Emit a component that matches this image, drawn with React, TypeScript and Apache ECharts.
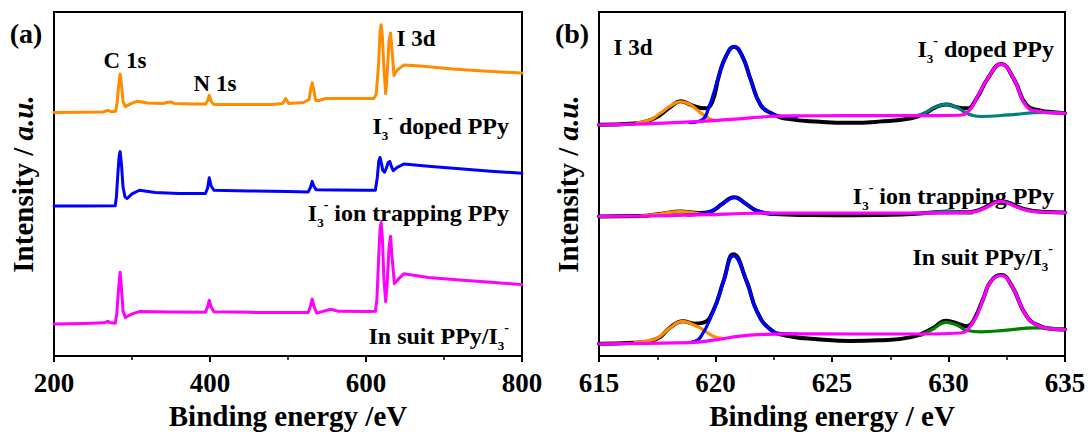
import React, { useEffect, useRef } from "react";
import * as echarts from "echarts";

type Pt = [number, number];

// ---------- Panel (a): XPS survey spectra (binding energy / eV, intensity / a.u.) ----------
const surveyDoped: Pt[] = [
  [200, 247.7], [235, 248], [263, 248.3], [269, 250], [274, 248.5], [279, 249], [281, 258], [283, 276],
  [284.8, 287], [286.5, 276], [288.5, 259], [291.5, 253.7], [298, 256.5], [307, 259.3], [320, 257.5],
  [340, 257], [346, 258.2], [350, 258.5], [354, 257], [380, 256.5], [394, 256.3], [397, 260], [399, 265.3],
  [401.5, 259], [405, 256], [440, 256], [480, 256], [493, 257], [497, 262], [501, 257], [520, 258],
  [527, 261], [529, 271], [531, 278], [533, 271], [535.5, 260], [540, 260], [548, 262], [580, 262],
  [610, 262], [613, 266], [616, 295], [618, 330], [619.4, 337], [621, 325], [623, 292], [625.2, 267],
  [627, 285], [629.5, 320], [631.5, 328.7], [633.5, 310], [635.9, 285.3], [640, 291], [648.4, 296],
  [670, 295], [711, 292], [750, 290], [798, 288], [800, 288],
];
const surveyTrapping: Pt[] = [
  [200, 152.7], [240, 152.8], [278.5, 153], [280, 162], [282, 187], [283.5, 203], [284.8, 208],
  [286.5, 195], [288.5, 172], [291, 162], [293.7, 160.3], [300, 165], [309.5, 168.7], [330, 166.5],
  [360, 165.5], [394, 165.3], [397, 171], [399, 181.3], [401.5, 173], [405, 168.7], [450, 168],
  [500, 167.5], [526, 167], [529, 172], [531, 177.7], [533, 173], [536, 169.3], [560, 169], [600, 168.7],
  [612, 168.7], [614.5, 182], [616.5, 199], [618, 202], [620, 195], [621.5, 189], [623.8, 187],
  [626, 191], [628.5, 197], [630.5, 198], [632.5, 193], [634.9, 188.7], [640, 192], [648.4, 195.3],
  [680, 193], [720, 190.5], [760, 188], [800, 186],
];
const surveyInSuit: Pt[] = [
  [200, 32.7], [240, 33.2], [264, 33.8], [269, 35.3], [273, 33.8], [278.5, 33.5], [280.5, 43],
  [282.5, 66], [284.8, 85.3], [286.8, 66], [288.5, 46], [291.5, 39.3], [300, 43], [309.5, 45.3],
  [350, 44.8], [394, 44.7], [397, 50], [399, 56.7], [401.5, 50], [405, 45], [450, 44.5], [500, 44.3],
  [526, 44.3], [528.5, 50], [531, 58], [533.5, 50], [537, 43.7], [545, 45.5], [554.7, 47.7], [565, 45.5],
  [600, 45.3], [612, 45.5], [614, 58], [616.5, 105], [618, 129], [619.4, 136], [621, 120], [623, 78],
  [625.2, 55.3], [627, 72], [629.5, 110], [631.5, 122], [633.5, 100], [636.4, 73.7], [640, 77],
  [648.4, 83.7], [680, 80], [720, 77.5], [760, 75], [800, 72.7],
];

// ---------- Panel (b): I 3d high-resolution spectra and fitted components ----------
// I3- doped PPy
const dopedEnvelope: Pt[] = [
  [615, 235.3], [616.5, 236.5], [617.2, 240], [617.6, 245], [618.1, 254], [618.5, 259.3], [619.0, 255],
  [619.55, 252], [619.85, 258], [620.15, 285.3], [620.45, 305], [620.8, 314.7], [621.15, 305], [621.5, 282],
  [621.94, 255.3], [622.4, 247], [623.1, 241.3], [624.5, 238.3], [625.8, 237.3], [627, 238.5], [628.4, 242],
  [629.0, 247], [629.4, 252.5], [629.9, 256], [630.4, 253], [630.8, 252], [631.2, 262], [631.7, 283],
  [632.26, 297], [632.8, 282], [633.36, 255], [633.93, 250], [634.5, 248], [635, 247],
];
const dopedPeakA: Pt[] = [
  [616.6, 237], [617.2, 240.5], [617.6, 246.5], [618.1, 255], [618.5, 258.7], [618.9, 256], [619.3, 248.7],
  [619.7, 242], [620.0, 239.5],
];
const dopedPeakB: Pt[] = [
  [618.9, 237.5], [619.4, 240], [619.7, 252], [620.15, 285.3], [620.45, 305], [620.8, 314.7], [621.15, 305],
  [621.5, 282], [621.94, 255.3], [622.3, 248], [622.54, 245.3], [623.0, 243.5], [623.5, 243.5],
];
const dopedPeakC: Pt[] = [
  [628.6, 244.5], [629.0, 247.5], [629.4, 253], [629.9, 256], [630.35, 253], [630.7, 248], [631.1, 244.5],
  [631.4, 243.7], [632.6, 245.3], [634.1, 248], [635, 247],
];
const dopedPeakD: Pt[] = [
  [615, 235.3], [616.5, 236], [618, 237.3], [619.4, 238.7], [620.5, 240.5], [621.5, 242.3], [622.3, 243.7],
  [623.5, 244.3], [625.5, 244.5], [627.5, 244.5], [629.5, 244.5], [630.5, 245], [630.9, 250], [631.2, 262],
  [631.7, 283], [632.26, 297], [632.8, 282], [633.36, 253.7], [633.93, 248.7], [634.5, 247.3], [635, 247],
];
// I3- ion trapping PPy
const trapEnvelope: Pt[] = [
  [615, 142], [616.8, 142.5], [617.6, 144.5], [618.5, 147], [619.3, 145.5], [619.8, 147], [620.3, 155],
  [620.8, 161.5], [621.3, 155], [621.8, 147.5], [622.5, 144.5], [624, 143.5], [626, 143.2], [628, 144],
  [629.3, 146], [630, 147], [630.6, 146.3], [631.3, 148.5], [632.24, 157.5], [633.2, 150], [634, 146.8],
  [635, 146],
];
const trapPeakA: Pt[] = [[616.8, 142.5], [617.6, 144.5], [618.5, 147], [619.3, 145], [620, 143.5]];
const trapPeakB: Pt[] = [
  [618.8, 143.3], [619.5, 145], [620, 150], [620.4, 156.5], [620.8, 161.5], [621.2, 156.5], [621.6, 150],
  [622.1, 146], [622.6, 144.8],
];
const trapPeakC: Pt[] = [[629, 145.5], [629.5, 146.5], [630, 147], [630.5, 146.2], [631, 145.3]];
const trapPeakD: Pt[] = [
  [615, 142], [617, 142.5], [619, 143.5], [620.5, 144.5], [622, 145.5], [624, 145.5], [627, 145.5],
  [630, 145.5], [631, 146.5], [631.6, 151], [632.24, 157.5], [632.9, 152], [633.5, 147.5], [634.2, 146.3],
  [635, 146],
];
// In suit PPy/I3-
const suitEnvelope: Pt[] = [
  [615, 12.5], [616.5, 13.5], [617.48, 17.5], [618.05, 29], [618.6, 35.5], [619.1, 33], [619.48, 34],
  [619.9, 46], [620.34, 76], [620.77, 103.5], [621.34, 76], [621.77, 46], [622.34, 27.5], [623, 21],
  [624.5, 17], [625.8, 15.3], [627, 16], [628.4, 19.3], [629.3, 28], [629.9, 36], [630.4, 33], [630.8, 30.3],
  [631.07, 36], [631.5, 59], [631.8, 75.5], [632.26, 82.5], [632.7, 72], [633.36, 40.5], [633.93, 30.5],
  [634.5, 27.5], [635, 27],
];
const suitPeakA: Pt[] = [
  [616.5, 13.5], [617.0, 15.3], [617.48, 18], [618.05, 28.7], [618.6, 35.3], [619.0, 32.5], [619.34, 28.7],
  [619.9, 20.3], [620.3, 18],
];
const suitPeakB: Pt[] = [
  [619.0, 14.5], [619.34, 18.7], [619.9, 45.3], [620.34, 75.3], [620.77, 102], [621.34, 75.3], [621.77, 45.3],
  [622.34, 27], [622.8, 23], [623.5, 22.5],
];
const suitPeakC: Pt[] = [
  [628.8, 21], [629.3, 27], [629.9, 34.3], [630.4, 31], [630.8, 26], [631.4, 24.7], [632.5, 26.5],
  [633.7, 28.7], [635, 27.3],
];
const suitPeakD: Pt[] = [
  [615, 12.5], [617, 13], [618.9, 13.7], [620, 16.5], [621.06, 20.3], [622, 22], [623.2, 22.7], [626, 22.5],
  [629, 22.5], [630.5, 23.5], [631.07, 35.3], [631.5, 58.7], [631.8, 75.3], [632.26, 82], [632.7, 72],
  [633.36, 40.3], [633.93, 30.3], [634.5, 27.5], [635, 27],
];

const surveyTicks = { min: 200, max: 800, interval: 200 };
const hrTicks = { min: 615, max: 635, interval: 5 };
const intensityRange = { min: 0, max: 350 };

const SERIF = "Liberation Serif";
const BLACK = "#000000";
const ORANGE = "#ff8c00";
const BLUE = "#0000ff";
const MAGENTA = "#ff00ff";
const TEAL = "#008080";
const GREEN = "#008000";

function line(data: Pt[], color: string, width: number, idx: number, smooth: number | boolean) {
  return {
    type: "line",
    xAxisIndex: idx,
    yAxisIndex: idx,
    data,
    symbol: "none",
    showSymbol: false,
    smooth,
    silent: true,
    lineStyle: { color, width, cap: "round", join: "round" },
  };
}

function xAxis(idx: number, t: { min: number; max: number; interval: number }, name: string) {
  return {
    gridIndex: idx,
    type: "value",
    min: t.min,
    max: t.max,
    interval: t.interval,
    axisLine: { show: true, onZero: false, lineStyle: { color: BLACK, width: 2 } },
    axisTick: { show: true, inside: false, length: 6, lineStyle: { color: BLACK, width: 2 } },
    minorTick: { show: true, splitNumber: 2, length: 4, lineStyle: { color: BLACK, width: 1.5 } },
    splitLine: { show: false },
    axisLabel: { color: BLACK, fontFamily: SERIF, fontWeight: "bold", fontSize: 27, margin: 13 },
    name,
    nameLocation: "middle",
    nameGap: 39,
    nameTextStyle: { color: BLACK, fontFamily: SERIF, fontWeight: "bold", fontSize: 29 },
  };
}

function yAxis(idx: number) {
  return {
    gridIndex: idx,
    type: "value",
    min: intensityRange.min,
    max: intensityRange.max,
    axisLine: { show: true, lineStyle: { color: BLACK, width: 2 } },
    axisTick: { show: false },
    axisLabel: { show: false },
    splitLine: { show: false },
    name: "{n|Intensity / }{i|a.u.}",
    nameLocation: "middle",
    nameRotate: 90,
    nameGap: 17,
    nameTextStyle: {
      fontFamily: SERIF,
      fontWeight: "bold",
      fontSize: 29,
      rich: {
        n: { fontFamily: SERIF, fontWeight: "bold", fontSize: 29, color: BLACK },
        i: { fontFamily: SERIF, fontWeight: "bold", fontStyle: "italic", fontSize: 29, color: BLACK },
      },
    },
  };
}

const mainTok = { fontFamily: SERIF, fontWeight: "bold", fontSize: 24, lineHeight: 32, fill: BLACK };
const subTok = { fontFamily: SERIF, fontWeight: "bold", fontSize: 13, lineHeight: 13, verticalAlign: "bottom", fill: BLACK };
const supTok = { fontFamily: SERIF, fontWeight: "bold", fontSize: 14, lineHeight: 14, verticalAlign: "top", fill: BLACK };

function label(text: string, x: number, y: number, align: string, size = 24) {
  return {
    type: "text",
    silent: true,
    style: {
      text,
      x,
      y,
      align,
      textAlign: align,
      verticalAlign: "middle",
      textVerticalAlign: "middle",
      fill: BLACK,
      font: `bold ${size}px ${SERIF}`,
      rich: { m: mainTok, sub: subTok, sup: supTok },
    },
  };
}

const option = {
  animation: false,
  backgroundColor: "#ffffff",
  textStyle: { fontFamily: SERIF, fontWeight: "bold", color: BLACK },
  grid: [
    { left: 54, top: 12, width: 468, height: 350, show: true, borderColor: BLACK, borderWidth: 2, containLabel: false },
    { left: 599, top: 12, width: 466, height: 350, show: true, borderColor: BLACK, borderWidth: 2, containLabel: false },
  ],
  xAxis: [xAxis(0, surveyTicks, "Binding energy /eV"), xAxis(1, hrTicks, "Binding energy / eV")],
  yAxis: [yAxis(0), yAxis(1)],
  series: [
    line(surveyDoped, ORANGE, 3, 0, false),
    line(surveyTrapping, BLUE, 3, 0, false),
    line(surveyInSuit, MAGENTA, 3, 0, false),

    line(dopedEnvelope, BLACK, 4, 1, 0.5),
    line(trapEnvelope, BLACK, 4, 1, 0.5),
    line(suitEnvelope, BLACK, 4, 1, 0.5),
    line(dopedPeakA, ORANGE, 3.2, 1, 0.5),
    line(trapPeakA, ORANGE, 3.2, 1, 0.5),
    line(suitPeakA, ORANGE, 3.2, 1, 0.5),
    line(dopedPeakB, BLUE, 3.2, 1, 0.5),
    line(trapPeakB, BLUE, 3.2, 1, 0.5),
    line(suitPeakB, BLUE, 3.2, 1, 0.5),
    line(dopedPeakC, TEAL, 3.2, 1, 0.5),
    line(trapPeakC, TEAL, 3.2, 1, 0.5),
    line(suitPeakC, GREEN, 3.2, 1, 0.5),
    line(dopedPeakD, MAGENTA, 3.2, 1, 0.5),
    line(trapPeakD, MAGENTA, 3.2, 1, 0.5),
    line(suitPeakD, MAGENTA, 3.2, 1, 0.5),
  ],
  graphic: [
    label("(a)", 26, 33, "center", 28),
    label("(b)", 572, 33, "center", 28),
    label("C 1s", 125, 60, "center", 23),
    label("N 1s", 215, 83, "center", 23),
    label("I 3d", 416, 38, "center", 23),
    label("{m|I}{sub|3}{sup|-}{m| doped PPy}", 509, 126, "right"),
    label("{m|I}{sub|3}{sup|-}{m| ion trapping PPy}", 509, 213, "right"),
    label("{m|In suit PPy/I}{sub|3}{sup|-}", 509, 336, "right"),
    label("I 3d", 633, 47, "center", 23),
    label("{m|I}{sub|3}{sup|-}{m| doped PPy}", 1054, 49, "right"),
    label("{m|I}{sub|3}{sup|-}{m| ion trapping PPy}", 1054, 196, "right"),
    label("{m|In suit PPy/I}{sub|3}{sup|-}", 1053, 257, "right"),
  ],
};

export default function App() {
  const ref = useRef<HTMLDivElement>(null);
  useEffect(() => {
    if (!ref.current) return;
    const chart = echarts.init(ref.current, null, { renderer: "svg" });
    chart.setOption(option as any);
    return () => chart.dispose();
  }, []);
  return (
    <div
      ref={ref}
      style={{ position: "fixed", left: 0, top: 0, width: 1091, height: 435, background: "#ffffff" }}
    />
  );
}
